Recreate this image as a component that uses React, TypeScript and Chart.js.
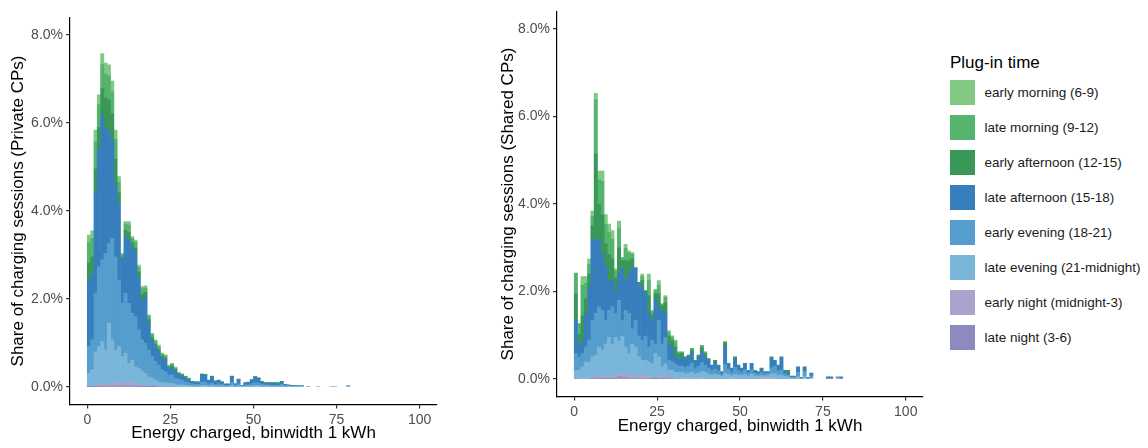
import React, { useEffect, useRef } from 'react';
import { Chart, registerables } from 'chart.js';

Chart.register(...registerables);

const FONT = "'Liberation Sans', Arial, Helvetica, sans-serif";

// lower edge (kWh) of each 1 kWh histogram bin
const energyBins: number[] = Array.from({ length: 81 }, (_, i) => i);
const xTickValues = [0, 25, 50, 75, 100];
const yTickValues = [0, 2, 4, 6, 8];

const plugInTimes = [
  'early morning (6-9)',
  'late morning (9-12)',
  'early afternoon (12-15)',
  'late afternoon (15-18)',
  'early evening (18-21)',
  'late evening (21-midnight)',
  'early night (midnight-3)',
  'late night (3-6)',
];
const plugInColors = ['#82ca84', '#54b36d', '#399758', '#377fbc', '#559dcc', '#7ab6da', '#a8a4ce', '#8d8ac1'];

// ---- Private CPs: share of sessions (%) per bin (bins not listed = 0) ----
const privEarlyMorning = [
  .17, .17, .27, .22, .25, .25, .25, .24, .21, .12,
  .03, .06, .08, .04, .06, .05, .05, .05, .03, .03,
  .03, .03, .02, .02, .02, .02, .02, .01, .01, .01,
  .01,
];
const privLateMorning = [
  .45, .42, .62, .52, .55, .53, .55, .50, .45, .24,
  .06, .14, .17, .09, .12, .11, .12, .10, .08, .06,
  .06, .06, .05, .05, .03, .04, .03, .02, .02, .01,
  .01, 0, 0, 0, .01, .01, 0, .01, 0, 0,
  0, 0, 0, .01, 0, 0, 0, 0, 0, 0,
  .01, .01, 0, 0, 0, 0, 0, .01,
];
const privEarlyAfternoon = [
  .40, .38, .55, .50, .60, .70, .72, .60, .55, .25,
  .06, .14, .17, .10, .12, .11, .11, .10, .08, .06,
  .06, .06, .05, .05, .03, .04, .04, .02, .02, .02,
  .01, .01, .01, .01, .01, .01, .01, .01, .01, .01,
  .01, 0, 0, .01, 0, .01, 0, 0, .01, .01,
  .01, .01, .01, .01, .01, .01, .01, .01, .01,
];
const privLateAfternoon = [
  1.51, 1.51, 2.27, 2.67, 3.29, 2.84, 2.54, 2.23, 1.67, 1.74,
  .99, 1.29, 1.44, 1.52, 1.44, 1.20, .93, 1.06, .61, .38,
  .34, .30, .26, .26, .15, .17, .16, .11, .10, .09,
  .07, .05, .05, .05, .17, .16, .08, .14, .07, .08,
  .05, .03, .03, .13, .04, .10, .02, .05, .05, .09,
  .12, .10, .06, .04, .04, .05, .05, .04, .06, .03,
  .02, .02, .01, .01, .01,
];
const privEarlyEvening = [
  .61, .68, 1.33, 1.81, 1.86, 2.20, 1.81, 2.31, 2.12, 1.51,
  1.21, 1.36, 1.36, 1.06, 1.14, .88, .72, .68, .61, .49,
  .42, .38, .29, .25, .19, .19, .14, .12, .10, .08,
  .07, .05, .04, .04, .08, .08, .05, .06, .04, .05,
  .04, .03, .03, .07, .03, .05, .01, .03, .03, .05,
  .07, .06, .04, .03, .03, .03, .03, .03, .04, .02,
  .02, .01, .02, .01, .01, 0, .015, 0, 0, 0,
  0, 0, 0, 0, 0, 0, 0, 0, .03,
];
const privLateEvening = [
  .29, .37, .77, .86, .95, .77, 1.39, .99, .76, .82,
  .61, .67, .42, .53, .36, .37, .31, .28, .20, .18,
  .14, .11, .09, .09, .07, .07, .05, .05, .05, .04,
  .03, .02, .02, .02, .03, .03, .02, .03, .02, .02,
  .02, .01, .01, .03, .01, .02, .01, .02, .02, .02,
  .03, .03, .02, .02, .02, .01, .01, .01, .02, .01,
  .01, .01, .01, .01, .01, 0, 0, 0, 0, .015,
  0, 0, 0, .015, .015,
];
const privEarlyNight = [
  .01, .01, .02, .04, .06, .05, .04, .06, .06, .07,
  .06, .07, .09, .06, .07, .04, .03, .02, .02, .01,
  .01, .01, .01, .01, .01, .01, .01,
];
const privLateNight = [
  .01, .01, .01, .02, .02, .02, .02, .02, .02, .03,
  .02, .03, .03, .02, .03, .01, .01, .01, .01, .01,
  .01,
];

// ---- Shared CPs: share of sessions (%) per bin (bins not listed = 0) ----
const sharedEarlyMorning = [
  0, 0, .20, .15, .12, .12, .15, .20, .24, .22,
  .19, .19, .05, .16, .02, .10, .05, .04, 0, 0,
  .05, 0, .15, .03, .03, .10, 0, .04, .04, .03,
  .04,
];
const sharedLateMorning = [
  .48, .25, .70, .35, .22, .22, 1.24, .55, .75, .45,
  .50, .45, .15, .45, .06, .28, .18, .10, 0, 0,
  .10, 0, .35, .08, .07, .20, .05, .12, .09, .08,
  .12, .05, .04, 0, 0, .04, 0, 0, .05, .04,
];
const sharedEarlyAfternoon = [
  .60, .25, .55, .35, .30, .30, 1.98, .80, .90, .50,
  .60, .50, .30, .60, .15, .45, .30, .20, .03, .04,
  .15, .07, .40, .12, .12, .30, .10, .25, .18, .15,
  .22, .10, .08, .04, .05, .06, .03, .06, .10, .06,
  .04, 0, .04, .02, 0, .10, 0, 0, .05, 0,
  0, 0, 0, 0, .02, 0, .02, 0, 0, .05,
  0, 0, 0, .03, .07,
];
const sharedLateAfternoon = [
  .76, .26, .31, .76, 1.21, 1.86, 1.66, 1.55, 1.29, 1.25,
  .68, .60, .52, .60, 1.21, .68, .90, 1.40, 1.18, 1.19,
  1.21, .97, .77, .45, 1.03, .31, .77, .55, .37, .33,
  .16, .17, .20, .20, .20, .24, .16, .20, .25, .20,
  .18, .13, .16, .11, .06, .41, .13, .09, .19, .13,
  .09, .15, .07, .15, .05, .06, .08, .05, .04, .20,
  .13, .13, .30, .05, .04, .03, .02, .13, .02, .10,
  .02, .06, 0, 0, 0, 0, .05, .03, 0, 0,
  .05,
];
const sharedEarlyEvening = [
  .38, .31, .30, .34, .50, .83, .95, .92, .91, .54,
  .62, .85, .55, .93, .36, .84, .92, .35, .61, .47,
  .46, .55, .34, .54, .22, .83, .52, .60, .23, .20,
  .20, .15, .15, .15, .16, .20, .13, .15, .20, .17,
  .14, .10, .12, .10, .05, .20, .12, .08, .16, .10,
  .08, .11, .06, .10, .06, .05, .07, .05, .05, .14,
  .18, .10, .12, .06, .04, .02, .03, .10, .01, .12,
  .01, .05, 0, 0, 0, 0, 0, .02, 0, .03,
];
const sharedLateEvening = [
  .15, .18, .26, .37, .37, .48, .51, .63, .61, .75,
  .90, .75, .90, .72, .86, .61, .50, .70, .65, .45,
  .35, .35, .33, .31, .54, .45, .24, .25, .17, .17,
  .13, .14, .13, .12, .12, .14, .10, .12, .14, .13,
  .10, .08, .10, .08, .05, .12, .10, .08, .10, .08,
  .07, .09, .06, .10, .06, .05, .06, .05, .05, .10,
  .10, .08, .08, .05, .04, .02, .02, .05, .01, .06,
  .01, .03,
];
const sharedEarlyNight = [
  .03, .02, .02, .02, .02, .02, .03, .07, .04, .04,
  .04, .04, .04, .10, .08, .08, .06, .07, .06, .04,
  .06, .06, .04, .03, .03, .04, .03, .07, .02, .02,
  .02, .01, .02, 0, .02, .02, .01, .02, .03, .02,
  .01, .01, .01, .01, .01, .02, .01, 0, .01, .01,
  .01, .01, .01, .01, .01, .01, .02, .02, .03, .02,
  .02, .01, .01, .01, .01, 0, 0, 0, 0, 0,
  0, 0, 0, 0, 0, 0, 0, 0, 0, .02,
];
const sharedLateNight = [
  .02, 0, 0, 0, 0, .01, .01, .03, .01, .01,
  .01, .01, .01, .05, .04, .04, .02, .03, .02, .02,
  .02, .02, .02, .01, .01, .02, .01, .03, .01, .01,
];

// legend order (top of stack first)
const privateSeries = [
  privEarlyMorning, privLateMorning, privEarlyAfternoon, privLateAfternoon,
  privEarlyEvening, privLateEvening, privEarlyNight, privLateNight,
];
const sharedSeries = [
  sharedEarlyMorning, sharedLateMorning, sharedEarlyAfternoon, sharedLateAfternoon,
  sharedEarlyEvening, sharedLateEvening, sharedEarlyNight, sharedLateNight,
];

type Area = { left: number; right: number; top: number; bottom: number };

function HistPanel(props: {
  series: number[][];
  yTitle: string;
  canvasLeft: number;
  width: number;
  area: Area;
  yTitlePad: number;
  xTitlePad: number;
}) {
  const { series, yTitle, canvasLeft, width, area, yTitlePad, xTitlePad } = props;
  const ref = useRef<HTMLCanvasElement>(null);

  useEffect(() => {
    if (!ref.current) return;
    const datasets = plugInTimes
      .map((name, s) => ({
        label: name,
        data: energyBins.map((b) => {
          const v = series[s][b] ?? 0;
          return { x: b + 0.5, y: v > 0 ? v : null };
        }),
        backgroundColor: plugInColors[s],
        borderWidth: 0,
        barPercentage: 1,
        categoryPercentage: 1,
      }))
      .reverse();

    const tickFont = { family: FONT, size: 14 };
    const titleFont = { family: FONT, size: 17 };

    const chart = new Chart(ref.current, {
      type: 'bar',
      data: { datasets: datasets as any },
      options: {
        animation: false,
        responsive: false,
        devicePixelRatio: 1,
        layout: { padding: { left: 0, top: area.top, right: width - area.right, bottom: 0 } },
        plugins: { legend: { display: false }, tooltip: { enabled: false } },
        scales: {
          x: {
            type: 'linear',
            stacked: true,
            offset: false,
            min: -5.2,
            max: 105.2,
            afterBuildTicks: (s: any) => {
              s.ticks = xTickValues.map((v) => ({ value: v }));
            },
            afterFit: (s: any) => {
              s.height = 448 - area.bottom;
            },
            grid: {
              display: true,
              drawOnChartArea: false,
              drawTicks: true,
              tickLength: 4,
              color: '#333333',
              lineWidth: 1.2,
              offset: false,
            },
            border: { display: true, color: '#000000', width: 1.2 },
            ticks: {
              font: tickFont,
              color: '#4d4d4d',
              padding: 3,
              maxRotation: 0,
              autoSkip: false,
              callback: (v: any) => String(v),
            },
            title: {
              display: true,
              text: 'Energy charged, binwidth 1 kWh',
              font: titleFont,
              color: '#000000',
              padding: { top: 0, bottom: xTitlePad },
            },
          },
          y: {
            type: 'linear',
            stacked: true,
            min: -0.4,
            max: 8.4,
            afterBuildTicks: (s: any) => {
              s.ticks = yTickValues.map((v) => ({ value: v }));
            },
            afterFit: (s: any) => {
              s.width = area.left;
            },
            grid: {
              display: true,
              drawOnChartArea: false,
              drawTicks: true,
              tickLength: 4,
              color: '#333333',
              lineWidth: 1.2,
            },
            border: { display: true, color: '#000000', width: 1.2 },
            ticks: {
              font: tickFont,
              color: '#4d4d4d',
              padding: 3,
              autoSkip: false,
              callback: (v: any) => Number(v).toFixed(1) + '%',
            },
            title: {
              display: true,
              text: yTitle,
              font: titleFont,
              color: '#000000',
              padding: { top: yTitlePad, bottom: 0 },
            },
          },
        },
      } as any,
    });
    return () => chart.destroy();
  }, []);

  return (
    <canvas
      ref={ref}
      width={width}
      height={448}
      style={{ position: 'absolute', left: canvasLeft, top: 0, width, height: 448 }}
    />
  );
}

function Legend() {
  return (
    <div style={{ position: 'absolute', left: 950, top: 0, fontFamily: FONT }}>
      <div
        style={{ position: 'absolute', left: 0, top: 52, fontSize: 17, lineHeight: '22px', whiteSpace: 'nowrap', color: '#000' }}
      >
        Plug-in time
      </div>
      {plugInTimes.map((name, i) => (
        <React.Fragment key={name}>
          <div
            style={{
              position: 'absolute',
              left: 0,
              top: 79.5 + 35 * i,
              width: 25,
              height: 25,
              background: plugInColors[i],
            }}
          />
          <div
            style={{
              position: 'absolute',
              left: 34.5,
              top: 79.5 + 35 * i,
              height: 25,
              lineHeight: '25px',
              fontSize: 13.5,
              color: '#1a1a1a',
              whiteSpace: 'nowrap',
            }}
          >
            {name}
          </div>
        </React.Fragment>
      ))}
    </div>
  );
}

export default function App() {
  return (
    <div
      style={{
        position: 'fixed',
        left: 0,
        top: 0,
        width: 1148,
        height: 448,
        background: '#ffffff',
        overflow: 'hidden',
      }}
    >
      <HistPanel
        series={privateSeries}
        yTitle="Share of charging sessions (Private CPs)"
        canvasLeft={0}
        width={460}
        area={{ left: 70, right: 437, top: 17.4, bottom: 404.6 }}
        yTitlePad={7.8}
        xTitlePad={4.3}
      />
      <HistPanel
        series={sharedSeries}
        yTitle="Share of charging sessions (Shared CPs)"
        canvasLeft={470}
        width={470}
        area={{ left: 87, right: 453, top: 9.4, bottom: 396.6 }}
        yTitlePad={27.8}
        xTitlePad={11.8}
      />
      <Legend />
    </div>
  );
}
